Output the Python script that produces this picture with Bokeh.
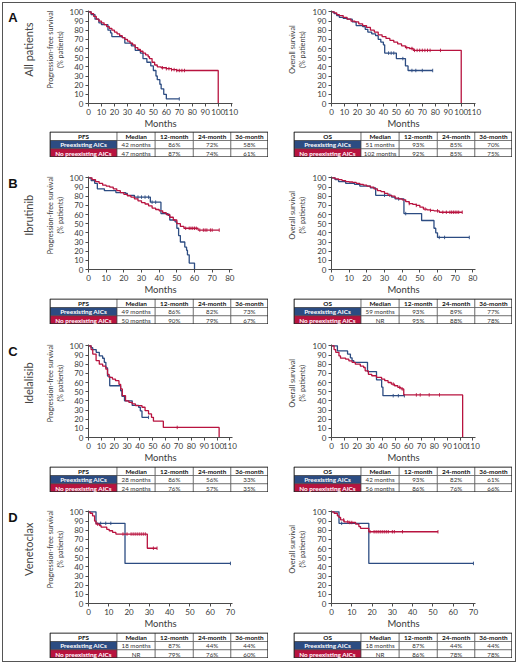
import numpy as np
from bokeh.plotting import figure
from bokeh.layouts import row, column, Spacer
from bokeh.models import Range1d, FixedTicker
from bokeh.core.properties import value
from bokeh.embed import file_html
from bokeh.resources import INLINE

BLUE = "#2c4c82"
RED = "#b8133f"
INK = "#3a3a3a"
FONT = "Lato"

# ---- data: months (t), survival % (s), censor times (c) ----
# A - all patients, PFS
a_pfs_pre_t = [0, 2, 5, 8, 10, 15, 17, 18, 26, 28, 33, 36, 40, 42, 45, 48, 50, 52, 53, 55, 56, 58, 60, 70]
a_pfs_pre_s = [100, 97, 92, 88, 86, 80, 77, 73, 72, 66, 63, 58, 55, 49, 45, 41, 36, 30, 26, 21, 16, 10, 5, 5]
a_pfs_pre_c = [70]
a_pfs_no_t = [0, 2, 4, 6, 8, 10, 12, 14, 16, 18, 20, 22, 24, 26, 28, 30, 32, 34, 36, 38, 40, 42, 44, 46, 47, 49, 51, 53, 56, 60, 64, 68, 100]
a_pfs_no_s = [100, 98, 95, 92, 90, 88, 86, 84, 82, 80, 78, 76, 74, 72, 70, 68, 66, 64, 61, 59, 57, 55, 53, 51, 49, 45, 42, 40, 39, 38, 37, 36, 0]
a_pfs_no_c = [57, 60, 62, 64, 66, 68, 70, 72, 74]
# A - all patients, OS
a_os_pre_t = [0, 2, 4, 6, 9, 12, 16, 19, 24, 26, 28, 31, 34, 36, 38, 40, 41, 50, 57, 59, 78]
a_os_pre_s = [100, 98, 96, 94, 93, 92, 89, 85, 84, 81, 78, 76, 74, 70, 67, 64, 55, 49, 41, 36, 36]
a_os_pre_c = [44, 46, 48, 55, 62, 65, 70, 78]
a_os_no_t = [0, 2, 4, 6, 9, 12, 15, 18, 21, 24, 27, 30, 33, 36, 39, 42, 45, 48, 51, 54, 57, 60, 63, 100]
a_os_no_s = [100, 99, 97, 96, 94, 92, 90, 89, 87, 85, 83, 80, 78, 75, 73, 71, 69, 67, 65, 63, 61, 60, 58, 0]
a_os_no_c = [58, 62, 64, 66, 68, 70, 72, 74, 76, 84]
# B - ibrutinib, PFS
b_pfs_pre_t = [0, 1.5, 3.5, 5, 9, 15.5, 21, 22, 26, 35, 41, 45, 46, 49, 50, 51, 52, 54.5, 55.5, 56, 57, 60]
b_pfs_pre_s = [100, 97, 94, 88, 86, 84, 83, 81, 79, 73.5, 61, 59, 54, 52, 45, 37, 30, 24.5, 21, 16, 7, 0]
b_pfs_pre_c = [28, 30, 32, 34, 36, 38]
b_pfs_no_t = [0, 2, 4, 6, 8, 10, 12, 14, 16, 18, 20, 22, 24, 26, 28, 30, 32, 34, 36, 38, 40, 42, 44, 46, 48, 50, 52, 54, 62, 74]
b_pfs_no_s = [100, 98, 96, 94, 92, 91, 90, 88, 86, 84, 82, 80.5, 79, 77, 75, 73, 71.5, 69.5, 67, 65.5, 64, 62, 60, 57, 54, 50, 47, 45, 43, 43]
b_pfs_no_c = [55, 57, 58, 59, 60, 61, 63, 65, 66, 67, 69, 70, 74]
# B - ibrutinib, OS
b_os_pre_t = [0, 2, 4, 8, 13, 16, 22, 25, 34, 36, 41, 51, 58, 59, 60, 78]
b_os_pre_s = [100, 98, 96, 94, 93, 91, 89, 81, 79, 77, 61, 53.5, 45, 40, 35, 35]
b_os_pre_c = [30, 33, 38, 42, 61, 64, 78]
b_os_no_t = [0, 2, 4, 6, 8, 10, 12, 14, 16, 18, 20, 22, 24, 26, 28, 30, 32, 34, 36, 38, 40, 42, 44, 46, 48, 50, 52, 54, 56, 58, 61, 74]
b_os_no_s = [100, 99, 98, 97, 96, 95.5, 95, 94, 93, 92, 91, 90, 88, 86, 85, 83, 81, 80, 78, 77, 76, 74, 72, 71, 70, 68, 66, 65, 64.5, 64, 62.5, 62.5]
b_os_no_c = [44, 48, 53, 56, 60, 63, 65, 67, 68, 69, 70, 71, 72, 74]
# C - idelalisib, PFS
c_pfs_pre_t = [0, 2, 3.3, 6, 8.4, 11, 12.3, 13.5, 14.8, 16.5, 25, 26, 28, 34, 39, 40.3, 41.6, 46.7]
c_pfs_pre_s = [100, 98, 96, 93, 89, 86.5, 82, 76, 67, 56.5, 51, 45, 40, 35, 33, 29, 22, 22]
c_pfs_pre_c = [46.7]
c_pfs_no_t = [0, 2, 3.3, 5.9, 8.4, 11, 13.5, 14.8, 16, 18.6, 21, 23.7, 25, 26.3, 28.8, 31.4, 34, 36.5, 41.6, 44, 46.7, 49, 50.5, 58.2, 101.6]
c_pfs_no_s = [100, 96, 91, 84, 80, 78, 74.6, 69, 65.6, 63.8, 62, 58, 53, 45.6, 40, 38.4, 36.6, 34.8, 33, 29.3, 25.7, 22, 17.8, 11, 0]
c_pfs_no_c = [69]
# C - idelalisib, OS
c_os_pre_t = [0, 4.6, 12.5, 14.7, 16, 17.3, 28, 35, 39, 40, 56.7]
c_os_pre_s = [100, 94.5, 91, 87, 84, 82, 72, 63, 55, 45.6, 45.6]
c_os_pre_c = [48, 52, 56.7]
c_os_no_t = [0, 2, 3.3, 5.8, 7, 11, 13.5, 16, 18.5, 22.4, 25, 26.2, 28.7, 31.3, 35, 39, 41.4, 44, 46.5, 49, 51.6, 54, 56.2, 102]
c_os_no_s = [100, 96, 93, 89, 86.6, 85.5, 83.7, 82, 80, 78, 76.4, 72.8, 69, 67.4, 65.6, 63.8, 62, 60, 58.3, 56.5, 54.7, 53, 46.5, 0]
c_os_no_c = [48, 53, 55, 66, 69, 76, 84]
# D - venetoclax, PFS
d_pfs_pre_t = [0, 3.7, 18, 70]
d_pfs_pre_s = [100, 87.5, 43.75, 43.75]
d_pfs_pre_c = [6, 8.5, 11, 70]
d_pfs_no_t = [0, 0.8, 2, 3, 3.7, 5.4, 6.2, 9, 10.2, 11.9, 13.5, 29, 33.8]
d_pfs_no_s = [100, 98.5, 95.7, 90, 86.6, 85, 83.4, 81, 79.4, 77.6, 75.8, 60.3, 60.3]
d_pfs_no_c = [4.5, 17, 19, 21, 22, 23, 24, 25, 26, 27, 28, 32, 33.8]
# D - venetoclax, OS
d_os_pre_t = [0, 3.7, 18.4, 70]
d_os_pre_s = [100, 87.5, 43.75, 43.75]
d_os_pre_c = [5, 70]
d_os_no_t = [0, 1.3, 2.9, 3.7, 4.5, 6.2, 8.6, 11.9, 13.5, 14.3, 18.4, 52.5]
d_os_no_s = [100, 98.5, 95.7, 93.9, 91.3, 89, 88.4, 86.6, 84, 82, 78.3, 78.3]
d_os_no_c = [6, 8, 9, 10, 19, 21, 22, 23, 24, 25, 26, 27, 28, 30, 31, 35, 52.5]

# ---- table values ----
table_cols = ["Median", "12-month", "24-month", "36-month"]
row_names = ["Preexisting AICs", "No preexisting AICs"]
a_pfs_tab = [["42 months", "86%", "72%", "58%"], ["47 months", "87%", "74%", "61%"]]
a_os_tab = [["51 months", "93%", "85%", "70%"], ["102 months", "92%", "85%", "75%"]]
b_pfs_tab = [["49 months", "86%", "82%", "73%"], ["50 months", "90%", "79%", "67%"]]
b_os_tab = [["59 months", "93%", "89%", "77%"], ["NR", "95%", "88%", "78%"]]
c_pfs_tab = [["28 months", "86%", "56%", "33%"], ["24 months", "76%", "57%", "35%"]]
c_os_tab = [["42 months", "93%", "82%", "61%"], ["56 months", "86%", "76%", "66%"]]
d_pfs_tab = [["18 months", "87%", "44%", "44%"], ["NR", "79%", "76%", "60%"]]
d_os_tab = [["18 months", "87%", "44%", "44%"], ["NR", "86%", "78%", "78%"]]

panels = ["A", "B", "C", "D"]
groups = ["All patients", "Ibrutinib", "Idelalisib", "Venetoclax"]
pfs_label = ["Progression-free survival", "(% patients)"]
os_label = ["Overall survival", "(% patients)"]
x_ends = [111, 81.5, 112, 71]
x_ticks = [list(range(0, 111, 10)), list(range(0, 81, 10)), list(range(0, 111, 10)), list(range(0, 71, 10))]

# ---- layout (px) ----
FRAME_W = 146
FRAME_H = 93
TOP = 4
gap_above = [3, 15, 16, 14]
bottom_border = [28, 29, 29, 29]
TH = 26


def km_plot(width, left, height, bottom, x_end, ticks, curves):
    p = figure(width=width, height=height, x_range=Range1d(0, x_end), y_range=Range1d(0, 101.5),
               output_backend="svg", toolbar_location=None,
               min_border_left=left, min_border_right=width - left - FRAME_W,
               min_border_top=TOP, min_border_bottom=bottom)
    p.outline_line_color = None
    p.grid.visible = False
    p.xaxis.ticker = FixedTicker(ticks=ticks)
    p.yaxis.ticker = FixedTicker(ticks=list(range(0, 101, 10)))
    for ax in (p.xaxis[0], p.yaxis[0]):
        ax.major_tick_in = 0
        ax.major_tick_out = 3
        ax.minor_tick_line_color = None
        ax.axis_line_color = "#4a4a4a"
        ax.major_tick_line_color = "#4a4a4a"
        ax.major_label_text_font = FONT
        ax.major_label_text_font_size = "8px"
        ax.major_label_text_color = INK
        ax.major_label_standoff = 2
    p.xaxis.axis_label = "Months"
    p.xaxis.axis_label_text_font = FONT
    p.xaxis.axis_label_text_font_style = "normal"
    p.xaxis.axis_label_text_color = INK
    p.xaxis.axis_label_standoff = 0
    p.xaxis.axis_label_text_font_size = "9.5px"
    for t, s, c, color in curves:
        p.step(t, s, mode="after", line_color=color, line_width=1.3)
        idx = np.searchsorted(t, c, side="right") - 1
        cy = np.array(s)[idx]
        p.scatter(c, cy, marker="dash", angle=np.pi / 2, size=3.5, line_color=color, line_width=0.9)
    return p


def side_fig(width, height, lines, xs, letter=None, group=None):
    # strip left of a plot: panel letter, group name and the rotated y-axis title
    p = figure(width=width, height=height, x_range=Range1d(0, width), y_range=Range1d(height, 0),
               output_backend="svg", toolbar_location=None, min_border=0,
               x_axis_type=None, y_axis_type=None)
    p.outline_line_color = None
    p.grid.visible = False
    mid = TOP + FRAME_H / 2 + 2
    if letter:
        p.text(x=[9.5], y=[9], text=[letter], text_font=value("Liberation Sans"),
               text_font_style="bold", text_font_size="13px", text_color="#111111",
               text_align="center", text_baseline="middle")
        p.text(x=[25], y=[mid], text=[group], angle=np.pi / 2, text_font=value(FONT),
               text_font_size="11px", text_color="#444444",
               text_align="center", text_baseline="middle")
    p.text(x=xs, y=[mid] * len(lines), text=lines, angle=np.pi / 2, text_font=value(FONT),
           text_font_size="7.2px", text_color=INK, text_align="center", text_baseline="middle")
    return p


COL_W = [67.4, 38.3, 38.3, 37.7, 37.3]
ROW_Y = [0.5, 9, 17.3, 25.5]


def table_fig(name, vals):
    p = figure(width=219, height=TH, x_range=Range1d(0, 219), y_range=Range1d(TH, 0),
               output_backend="svg", toolbar_location=None, min_border=0,
               x_axis_type=None, y_axis_type=None)
    p.outline_line_color = None
    p.grid.visible = False
    edges = 0.5 + np.concatenate([[0], np.cumsum(COL_W)]) * 218 / 219
    cx = (edges[:-1] + edges[1:]) / 2
    left, right, top, bottom, fill = [], [], [], [], []
    for r in range(3):
        for k in range(5):
            left.append(edges[k]); right.append(edges[k + 1])
            top.append(ROW_Y[r]); bottom.append(ROW_Y[r + 1])
            if r > 0 and k == 0:
                fill.append(BLUE if r == 1 else RED)
            else:
                fill.append("white")
    p.quad(left=left, right=right, top=top, bottom=bottom, fill_color=fill,
           line_color="#444444", line_width=0.6)
    p.quad(left=[edges[0]], right=[edges[-1]], top=[ROW_Y[0]], bottom=[ROW_Y[-1]],
           fill_color=None, line_color="#222222", line_width=1.1)
    cy = [(ROW_Y[r] + ROW_Y[r + 1]) / 2 + 0.2 for r in range(3)]
    common = dict(text_align="center", text_baseline="middle", text_font=value(FONT))
    p.text(x=list(cx), y=[cy[0]] * 5, text=[name] + table_cols, text_font_style="bold",
           text_color="#111111", text_font_size="6.4px", **common)
    p.text(x=[cx[0]] * 2, y=cy[1:], text=row_names, text_font_style="bold",
           text_color="white", text_font_size="6.4px", **common)
    for r in range(2):
        p.text(x=list(cx[1:]), y=[cy[r + 1]] * 4, text=vals[r], text_color="#333333",
               text_font_size="6.2px", **common)
    return p


pfs_curves = [
    [(a_pfs_pre_t, a_pfs_pre_s, a_pfs_pre_c, BLUE), (a_pfs_no_t, a_pfs_no_s, a_pfs_no_c, RED)],
    [(b_pfs_pre_t, b_pfs_pre_s, b_pfs_pre_c, BLUE), (b_pfs_no_t, b_pfs_no_s, b_pfs_no_c, RED)],
    [(c_pfs_pre_t, c_pfs_pre_s, c_pfs_pre_c, BLUE), (c_pfs_no_t, c_pfs_no_s, c_pfs_no_c, RED)],
    [(d_pfs_pre_t, d_pfs_pre_s, d_pfs_pre_c, BLUE), (d_pfs_no_t, d_pfs_no_s, d_pfs_no_c, RED)],
]
os_curves = [
    [(a_os_pre_t, a_os_pre_s, a_os_pre_c, BLUE), (a_os_no_t, a_os_no_s, a_os_no_c, RED)],
    [(b_os_pre_t, b_os_pre_s, b_os_pre_c, BLUE), (b_os_no_t, b_os_no_s, b_os_no_c, RED)],
    [(c_os_pre_t, c_os_pre_s, c_os_pre_c, BLUE), (c_os_no_t, c_os_no_s, c_os_no_c, RED)],
    [(d_os_pre_t, d_os_pre_s, d_os_pre_c, BLUE), (d_os_no_t, d_os_no_s, d_os_no_c, RED)],
]
pfs_tabs = [a_pfs_tab, b_pfs_tab, c_pfs_tab, d_pfs_tab]
os_tabs = [a_os_tab, b_os_tab, c_os_tab, d_os_tab]

blocks = []
for i in range(4):
    h = TOP + FRAME_H + bottom_border[i]
    blocks.append(Spacer(width=512, height=gap_above[i]))
    lab1 = side_fig(63, h, pfs_label, [47, 57], panels[i], groups[i])
    pfs = km_plot(216, 20, h, bottom_border[i], x_ends[i], x_ticks[i], pfs_curves[i])
    lab2 = side_fig(27, h, os_label, [10, 20])
    os_ = km_plot(206, 20, h, bottom_border[i], x_ends[i], x_ticks[i], os_curves[i])
    blocks.append(row(lab1, pfs, lab2, os_))
    blocks.append(row(Spacer(width=46, height=TH), table_fig("PFS", pfs_tabs[i]),
                      Spacer(width=25, height=TH), table_fig("OS", os_tabs[i]),
                      Spacer(width=3, height=TH)))
blocks.append(Spacer(width=512, height=3))

p = column(*blocks, margin=(2, 0, 0, 2), styles={"border": "1px solid #555555"})

open("out.html", "w").write(file_html(p, INLINE))
